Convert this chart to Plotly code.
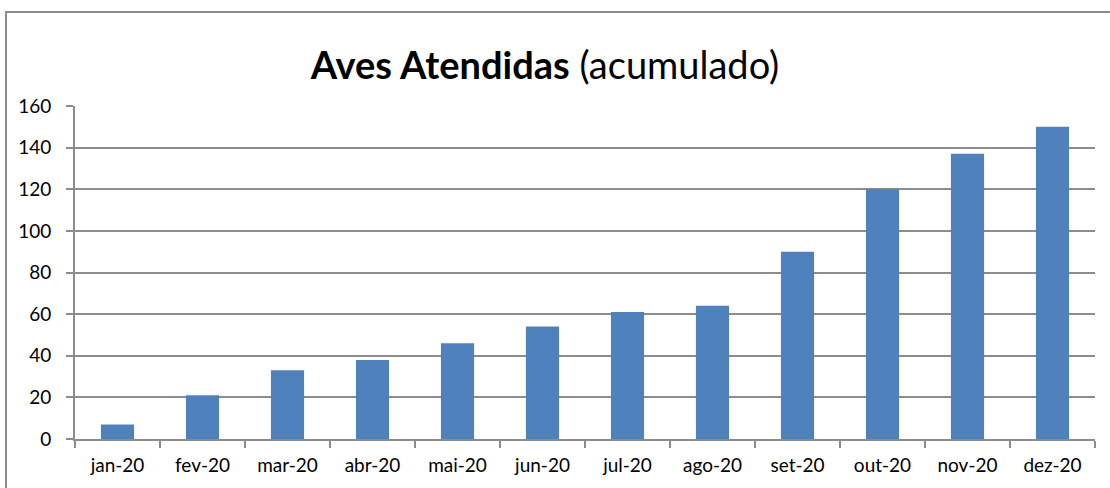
import plotly.graph_objects as go

categories = ["jan-20", "fev-20", "mar-20", "abr-20", "mai-20", "jun-20",
              "jul-20", "ago-20", "set-20", "out-20", "nov-20", "dez-20"]
values = [7, 21, 33, 38, 46, 54, 61, 64, 90, 120, 137, 150]
y_ticks = [0, 20, 40, 60, 80, 100, 120, 140, 160]

FONT = "Lato"
GRID = "#8c8c8c"

fig = go.Figure(go.Bar(x=categories, y=values, marker=dict(color="#4f81bd", line=dict(width=0))))

fig.update_layout(
    width=1110, height=488,
    margin=dict(l=75, r=15, t=106, b=49),
    paper_bgcolor="white", plot_bgcolor="white",
    bargap=0.61,
    showlegend=False,
    font=dict(family=FONT, size=19, color="#000000"),
    title=dict(
        text="<b>Aves Atendidas</b> (acumulado)",
        x=545 / 1110, xanchor="center", xref="container",
        y=1 - 66 / 488, yanchor="middle",
        font=dict(family=FONT, size=38, color="#000000"),
    ),
    shapes=[dict(type="rect", xref="paper", yref="paper",
                 x0=(6 - 75) / 1020, x1=(1125 - 75) / 1020,
                 y0=(439 - 500) / 333, y1=(439 - 12) / 333,
                 line=dict(color="#8c8c8c", width=2), fillcolor="rgba(0,0,0,0)", layer="below")],
)

fig.update_xaxes(
    type="category",
    showline=True, linecolor=GRID, linewidth=2,
    ticks="outside", ticklen=7, tickcolor=GRID, tickwidth=2,
    tickson="boundaries",
    showgrid=False,
    tickfont=dict(family=FONT, size=19),
    ticklabelstandoff=8,
)
fig.update_yaxes(
    range=[0, 160], tickvals=y_ticks,
    showline=True, linecolor=GRID, linewidth=2,
    ticks="outside", ticklen=7, tickcolor=GRID, tickwidth=2,
    showgrid=True, gridcolor=GRID, gridwidth=2,
    zeroline=False,
    tickfont=dict(family=FONT, size=19),
    ticklabelstandoff=11,
)

fig.write_html("out.html", config={"displayModeBar": False},
               post_script="document.body.style.margin='0';document.body.style.overflow='hidden';")
